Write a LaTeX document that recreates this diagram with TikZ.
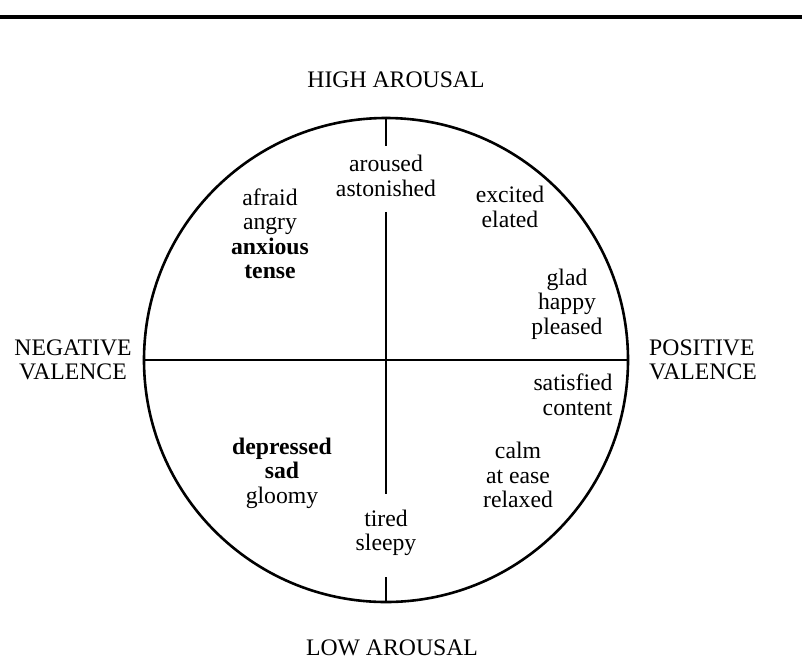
\documentclass[tikz,border=0pt]{standalone}
\usepackage{fontspec}
\setmainfont{Liberation Serif}
\begin{document}
\begin{tikzpicture}[x=1pt,y=-1pt,
  every node/.style={font=\fontsize{23.7}{24.5}\selectfont,align=center,inner sep=0pt},
  axis/.style={line width=2.6pt}]
\useasboundingbox (0,0) rectangle (802,662);
\draw[line width=4pt] (0,17) -- (802,17);
\node (dial) [circle,draw,axis,minimum size=484pt] at (386,360) {};
\node (high) at (396,80) {HIGH AROUSAL};
\node (low) at (392,648) {LOW AROUSAL};
\node (neg) at (73,360) {NEGATIVE\\VALENCE};
\node (pos) [align=left] at (703,360) {POSITIVE\\VALENCE};
\node (aroused) at (386,176) {aroused\\astonished};
\node (afraid) at (270,234) {afraid\\angry\\\textbf{anxious}\\\textbf{tense}};
\node (excited) at (510,207) {excited\\elated};
\node (glad) at (567,304) {glad\\happy\\pleased};
\node (satisfied) [align=right] at (573,395) {satisfied\\content};
\node (calm) at (518,475) {calm\\at ease\\relaxed};
\node (depressed) at (282,473) {\textbf{depressed}\\\textbf{sad}\\gloomy};
\node (tired) at (386,533) {tired\\sleepy};
\draw[axis] (dial.west) -- (dial.east);
\draw[axis,shorten >=9pt] (dial.north) -- (aroused.north);
\draw[axis,shorten <=15pt,shorten >=16pt] (aroused.south) -- (tired.north);
\draw[axis,shorten <=21pt] (tired.south) -- (dial.south);
\end{tikzpicture}
\end{document}
